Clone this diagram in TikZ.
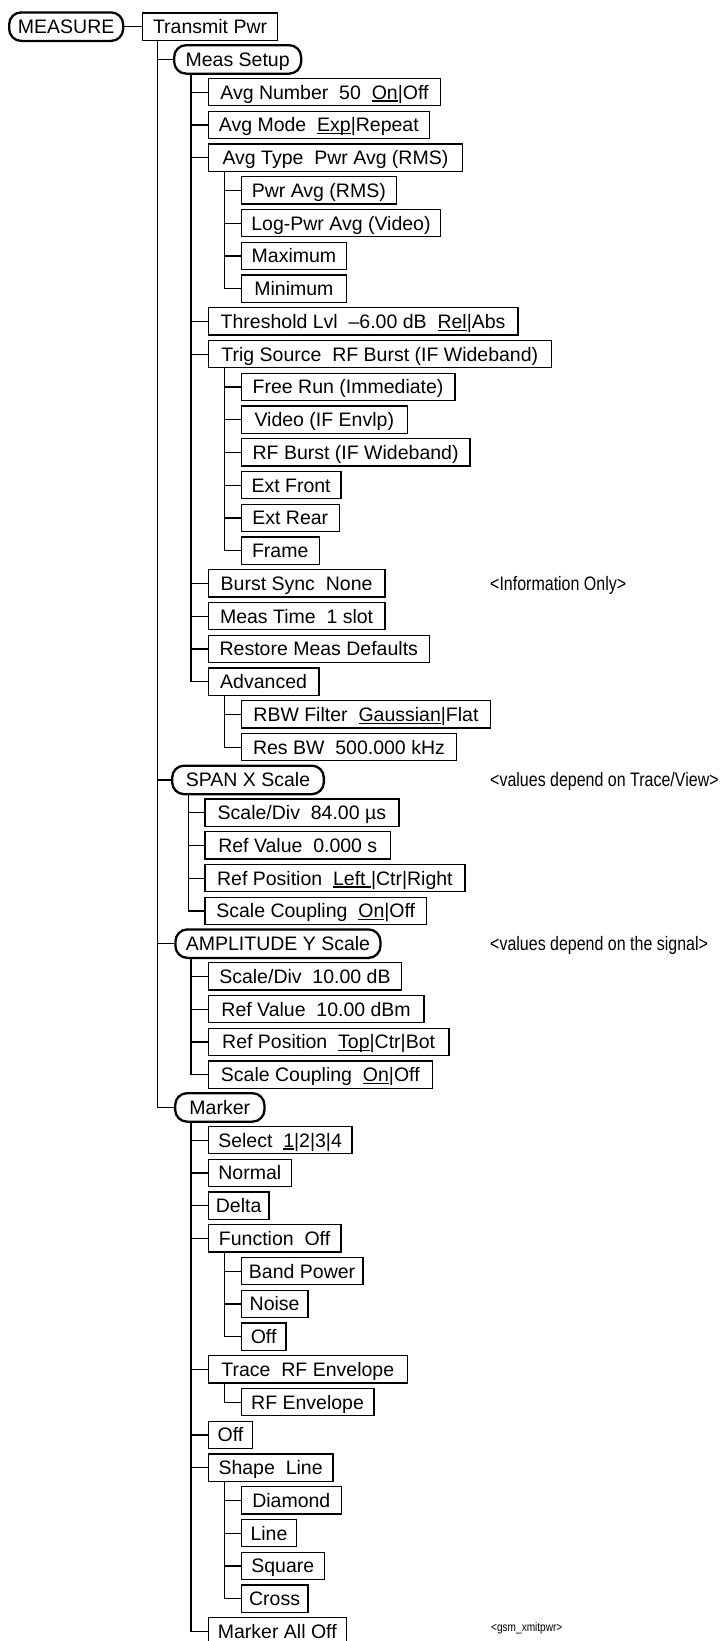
\documentclass[tikz,border=0pt]{standalone}
\usepackage{fontspec}
\setmainfont{Liberation Sans}
\newfontfamily\narrowfont{Liberation Sans}[FakeStretch=0.82]
\newcommand\ul[1]{\setbox0\hbox{#1}\rlap{\rule[-2.4pt]{\wd0}{1.1pt}}\box0}
\tikzset{
  bx/.style={draw, line width=1.2pt, inner xsep=1pt, inner ysep=0pt, minimum height=27.3pt,
    text height=14pt, text depth=0pt, font=\fontsize{19.5}{22}\selectfont, anchor=west},
  rbx/.style={bx, line width=2.3pt, rounded corners=12pt, minimum height=28.5pt},
  conn/.style={line width=1.2pt},
  note/.style={font=\narrowfont\fontsize{19.5}{22}\selectfont, anchor=west, inner sep=0pt,
    text height=14pt, text depth=0pt},
}
\newcommand\bx[6][bx]{\node[#1, minimum width={(#5-#4)*1pt}] (#2) at (#4,{26.65+32.75*#3}) {#6};}
\begin{document}
\begin{tikzpicture}[x=1pt,y=-1pt]
\fill[white] (0,0) rectangle (722,1641);
\useasboundingbox (0,0) rectangle (722,1641);
\bx[rbx]{measure}{0}{8}{122}{MEASURE}
\bx{tp}{0}{142}{277}{Transmit Pwr}
\bx[rbx]{ms}{1}{173}{300}{Meas Setup}
\bx{an}{2}{207.7}{440}{Avg Number~~50~~\ul{On}|Off}
\bx{am}{3}{207.7}{428.7}{Avg Mode~~\ul{Exp}|Repeat}
\bx{at}{4}{207.7}{462}{Avg Type~~Pwr Avg (RMS)}
\bx{pa}{5}{240.7}{395.7}{Pwr Avg (RMS)}
\bx{lp}{6}{240.7}{440}{Log-Pwr Avg (Video)}
\bx{mx}{7}{240.7}{346}{Maximum}
\bx{mn}{8}{240.7}{346}{Minimum}
\bx{th}{9}{207.7}{517.3}{Threshold Lvl~~–6.00 dB~~\ul{Rel}|Abs}
\bx{ts}{10}{207.7}{550.7}{Trig Source~~RF Burst (IF Wideband)}
\bx{fr}{11}{240.7}{454.3}{Free Run (Immediate)}
\bx{vi}{12}{240.7}{406.7}{Video (IF Envlp)}
\bx{rb}{13}{240.7}{469.3}{RF Burst (IF Wideband)}
\bx{ef}{14}{240.7}{340.3}{Ext Front}
\bx{er}{15}{240.7}{338.7}{Ext Rear}
\bx{fa}{16}{240.7}{318.5}{Frame}
\bx{bs}{17}{207.7}{384.3}{Burst Sync~~None}
\bx{mt}{18}{207.7}{384.3}{Meas Time~~1 slot}
\bx{rd}{19}{207.7}{428.7}{Restore Meas Defaults}
\bx{adv}{20}{207.7}{318.3}{Advanced}
\bx{rbw}{21}{240.7}{490}{RBW Filter~~\ul{Gaussian}|Flat}
\bx{res}{22}{240.7}{456}{Res BW~~500.000 kHz}
\bx[rbx]{span}{23}{171}{322.7}{SPAN X Scale}
\bx{sda}{24}{204.3}{398.3}{Scale/Div~~84.00 µs}
\bx{rva}{25}{204.3}{390}{Ref Value~~0.000 s}
\bx{rpa}{26}{204.3}{464.3}{Ref Position~~\ul{Left\ }|Ctr|Right}
\bx{sca}{27}{204.3}{426}{Scale Coupling~~\ul{On}|Off}
\bx[rbx]{amp}{28}{174.3}{379.3}{AMPLITUDE Y Scale}
\bx{sdb}{29}{207.7}{401}{Scale/Div~~10.00 dB}
\bx{rvb}{30}{207.7}{423.3}{Ref Value~~10.00 dBm}
\bx{rpb}{31}{207.7}{448.3}{Ref Position~~\ul{Top}|Ctr|Bot}
\bx{scb}{32}{207.7}{431.7}{Scale Coupling~~\ul{On}|Off}
\bx[rbx]{mk}{33}{174}{263.3}{Marker}
\bx{sel}{34}{207.7}{351.3}{Select~~\ul{1}|2|3|4}
\bx{nor}{35}{207.7}{290.7}{Normal}
\bx{del}{36}{207.7}{268.3}{Delta}
\bx{fun}{37}{207.7}{340.3}{Function~~Off}
\bx{bp}{38}{240.7}{362.3}{Band Power}
\bx{noi}{39}{240.7}{307.3}{Noise}
\bx{ofa}{40}{240.7}{285.3}{Off}
\bx{tr}{41}{207.7}{406.7}{Trace~~RF Envelope}
\bx{rfe}{42}{240.7}{373.3}{RF Envelope}
\bx{ofb}{43}{207.7}{252}{Off}
\bx{sh}{44}{207.7}{332.3}{Shape~~Line}
\bx{dia}{45}{240.7}{340.7}{Diamond}
\bx{lin}{46}{240.7}{296}{Line}
\bx{sq}{47}{240.7}{323.7}{Square}
\bx{cr}{48}{240.7}{307.3}{Cross}
\bx{mao}{49}{207.7}{345.7}{Marker All Off}
% notes
\node[note] (n1) at (490,{26.65+32.75*17}) {<Information Only>};
\node[note] (n2) at (490,{26.65+32.75*23}) {<values depend on Trace/View>};
\node[note] (n3) at (490,{26.65+32.75*28}) {<values depend on the signal>};
\node[note, font=\narrowfont\fontsize{12.3}{14}\selectfont, text height=9pt] (n4) at (491,1627) {<gsm\_xmitpwr>};
% trunk columns
\coordinate (T0) at (157.3,0);
\coordinate (T1) at (191,0);
\coordinate (T1s) at (188.3,0);
\coordinate (T2) at (224.3,0);
% connectors
\draw[conn] (measure.east) -- (tp.west);
\foreach \c in {ms,span,amp,mk}{\draw[conn] (tp.south -| T0) |- (\c.west);}
\foreach \c in {an,am,at,th,ts,bs,mt,rd,adv}{\draw[conn] (ms.south -| T1) |- (\c.west);}
\foreach \c in {pa,lp,mx,mn}{\draw[conn] (at.south -| T2) |- (\c.west);}
\foreach \c in {fr,vi,rb,ef,er,fa}{\draw[conn] (ts.south -| T2) |- (\c.west);}
\foreach \c in {rbw,res}{\draw[conn] (adv.south -| T2) |- (\c.west);}
\foreach \c in {sda,rva,rpa,sca}{\draw[conn] (span.south -| T1s) |- (\c.west);}
\foreach \c in {sdb,rvb,rpb,scb}{\draw[conn] (amp.south -| T1) |- (\c.west);}
\foreach \c in {sel,nor,del,fun,tr,ofb,sh,mao}{\draw[conn] (mk.south -| T1) |- (\c.west);}
\foreach \c in {bp,noi,ofa}{\draw[conn] (fun.south -| T2) |- (\c.west);}
\foreach \c in {rfe}{\draw[conn] (tr.south -| T2) |- (\c.west);}
\foreach \c in {dia,lin,sq,cr}{\draw[conn] (sh.south -| T2) |- (\c.west);}
\end{tikzpicture}
\end{document}
